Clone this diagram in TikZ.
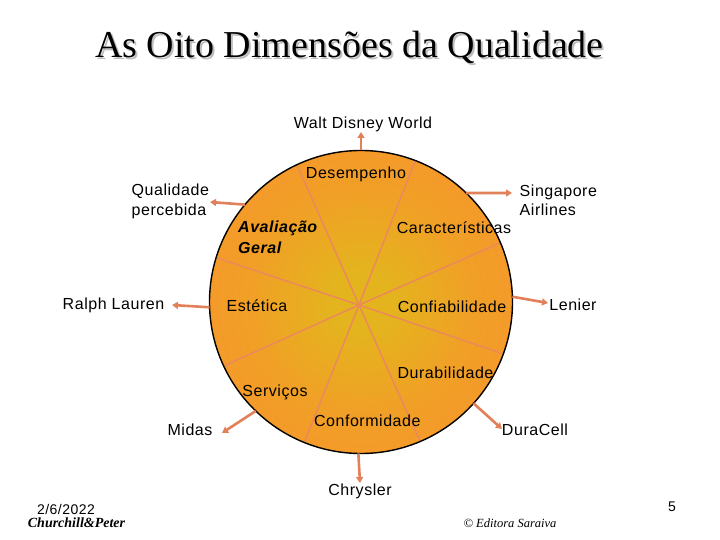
\documentclass[tikz,border=0pt]{standalone}
\usepackage{fontspec}
\setmainfont{Liberation Sans}[LetterSpace=3.4]
\newfontfamily\timesf{Liberation Serif}
\usetikzlibrary{arrows.meta}
\definecolor{inC}{RGB}{228,180,30}
\definecolor{midC}{RGB}{240,160,38}
\definecolor{outC}{RGB}{247,150,44}
\definecolor{spokeC}{RGB}{234,138,92}
\definecolor{arrC}{RGB}{226,128,90}
\definecolor{shadowC}{RGB}{190,190,190}
\pgfdeclareradialshading{discshade}{\pgfpoint{0bp}{0bp}}{color(0bp)=(inC); color(5bp)=(inC); color(18bp)=(midC); color(30bp)=(outC); color(50bp)=(outC)}
\tikzset{
  lab/.style={font=\fontsize{16}{19}\selectfont, inner sep=0pt, anchor=base},
  labw/.style={lab, anchor=base west},
  labbi/.style={labw, font=\fontsize{16}{19}\selectfont\bfseries\itshape},
  spoke/.style={draw=spokeC, line width=1.5pt, shorten >=1pt},
  arr/.style={draw=arrC, line width=2.6pt, -{Triangle[length=6pt,width=7pt]}},
}
\begin{document}
\begin{tikzpicture}[x=1pt,y=-1pt]
\useasboundingbox[fill=white] (0,0) rectangle (720,540);
% title
\node[font=\timesf\fontsize{38}{44}\selectfont, text=shadowC, inner sep=0pt, anchor=base] (titleshadow) at (351.5,59.5) {As Oito Dimensões da Qualidade};
\node[font=\timesf\fontsize{38}{44}\selectfont, inner sep=0pt, anchor=base] (title) at (349.5,57.5) {As Oito Dimensões da Qualidade};
% disc
\node[circle, minimum size=303pt, inner sep=0pt, outer sep=0pt, shading=discshade] (disc) at (361,302) {};
\coordinate (hub) at (359,305);
\foreach \a in {115,69,23.5,340,293,248.5,205,163}{
  \draw[spoke] (hub) -- (disc.\a);
}
\node[circle, minimum size=303pt, inner sep=0pt, outer sep=0pt, draw=black, line width=1.4pt] (rim) at (361,302) {};
% dimensions
\node[lab] (desemp) at (356,179) {Desempenho};
\node[labbi] (aval1) at (238,232.7) {Avaliação};
\node[labbi] (aval2) at (238,253) {Geral};
\node[lab] (caract) at (454,233.3) {Características};
\node[lab] (estet) at (257,311) {Estética};
\node[lab] (confi) at (452,312.7) {Confiabilidade};
\node[lab] (durab) at (445.5,378.7) {Durabilidade};
\node[lab] (serv) at (275,396) {Serviços};
\node[lab] (conf) at (367.3,426.7) {Conformidade};
% examples
\node[lab] (wdw) at (363,128.5) {Walt Disney World};
\node[labw] (qual1) at (131.5,196) {Qualidade};
\node[labw] (qual2) at (131.5,215) {percebida};
\node[labw] (sing1) at (519.5,196.5) {Singapore};
\node[labw] (sing2) at (519.5,215) {Airlines};
\node[lab] (ralph) at (113.5,309.5) {Ralph Lauren};
\node[lab] (lenier) at (573,310) {Lenier};
\node[lab] (midas) at (190,435) {Midas};
\node[lab] (dura) at (535,435) {DuraCell};
\node[lab] (chrys) at (360,495) {Chrysler};
% arrow tips
\coordinate (tWDW) at (361,132);
\coordinate (tQual) at (210,202);
\coordinate (tSing) at (512,193);
\coordinate (tLen) at (548,303);
\coordinate (tRalph) at (172,305);
\coordinate (tMidas) at (222,433);
\coordinate (tChrys) at (360,483);
\coordinate (tDura) at (502,429);
\draw[arr] (disc.90) -- (tWDW);
\draw[arr] (disc.140) -- (tQual);
\draw[arr] (disc.46) -- (tSing);
\draw[arr] (disc.2) -- (tLen);
\draw[arr] (disc.182) -- (tRalph);
\draw[arr] (disc.226) -- (tMidas);
\draw[arr] (disc.269) -- (tChrys);
\draw[arr] (disc.318) -- (tDura);
% footer
\node[lab, font=\fontsize{14}{16}\selectfont] (date) at (66,514) {2/6/2022};
\node[lab, font=\timesf\fontsize{14}{16}\selectfont\bfseries\itshape] (auth) at (76.5,527) {Churchill\&Peter};
\node[lab, font=\timesf\fontsize{12.5}{15}\selectfont\itshape] (edit) at (510,527) {© Editora Saraiva};
\node[lab, font=\fontsize{14}{16}\selectfont] (page) at (672,511) {5};
\end{tikzpicture}
\end{document}
